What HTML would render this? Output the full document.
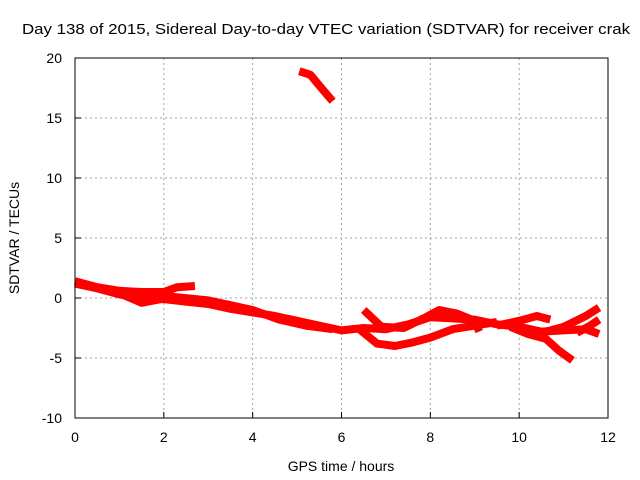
<!DOCTYPE html>
<html><head><meta charset="utf-8"><style>
body{margin:0;background:#fff;}
svg{display:block;font-family:"Liberation Sans",sans-serif;}
</style></head><body>
<svg id="chart" width="640" height="480">
<text x="22" y="34" font-size="15" textLength="608" lengthAdjust="spacingAndGlyphs">Day 138 of 2015, Sidereal Day-to-day VTEC variation (SDTVAR) for receiver crak</text>
<text x="341" y="471" font-size="14" text-anchor="middle">GPS time / hours</text>
<text transform="translate(19,238) rotate(-90)" font-size="14" text-anchor="middle">SDTVAR / TECUs</text>
<g id="grid"></g><g id="ticks"></g><g id="series"></g>
<rect x="75" y="58" width="533" height="360" fill="none" stroke="#000" stroke-width="1"/>
</svg>
<script>
const xTicks=[0,2,4,6,8,10,12];
const yTicks=[-10,-5,0,5,10,15,20];
const traceTop=[[5.05,18.9],[5.3,18.6],[5.5,17.7],[5.8,16.4]];
const traceMain=[[0,1.2],[0.5,0.8],[1,0.3],[1.5,0.0],[2,-0.1],[2.5,-0.3],[3,-0.5],[3.5,-0.9],[4,-1.2],[4.5,-1.5],[5,-1.9],[5.5,-2.3],[6,-2.7],[6.5,-2.5],[7,-2.6],[7.5,-2.2],[8,-1.6],[8.5,-1.7],[9,-1.8],[9.5,-2.2],[10,-2.4],[10.5,-2.8],[11,-2.7],[11.5,-2.6],[11.8,-3.0]];
const traceUpper=[[0,1.4],[0.5,0.9],[1,0.6],[1.5,0.5],[2,0.5],[2.3,0.9],[2.7,1.0]];
const traceMid=[[0.8,0.7],[1.5,-0.4],[2.2,0.1],[3,-0.2],[3.5,-0.6],[4,-1.0],[4.6,-1.8],[5.2,-2.3],[5.8,-2.6]];
const traceLow=[[6.4,-2.6],[6.8,-3.8],[7.2,-4.0],[7.6,-3.7],[8,-3.3],[8.5,-2.6],[9,-2.3],[9.5,-2.0]];
const traceRise=[[6.5,-1.0],[6.9,-2.4],[7.4,-2.5],[7.9,-1.6],[8.2,-1.0],[8.6,-1.3],[9.0,-1.9],[9.1,-2.8]];
const traceBump=[[9.5,-2.3],[10,-1.9],[10.4,-1.5],[10.7,-1.8]];
const traceDrop=[[9.8,-2.4],[10.2,-3.0],[10.6,-3.4],[10.9,-4.4],[11.2,-5.2]];
const traceEnd=[[10.5,-2.9],[11,-2.4],[11.5,-1.5],[11.8,-0.8]];
const traceEnd2=[[11.3,-2.9],[11.6,-2.3],[11.8,-1.8]];
const traces=[traceTop,traceMain,traceUpper,traceMid,traceLow,traceRise,traceBump,traceDrop,traceEnd,traceEnd2];
const NS="http://www.w3.org/2000/svg";
const sx=v=>75+v*533/12, sy=v=>418-(v+10)*12;
const grid=document.getElementById('grid'),ticks=document.getElementById('ticks'),ser=document.getElementById('series');
function mk(tag,at,parent){const e=document.createElementNS(NS,tag);for(const k in at)e.setAttribute(k,at[k]);parent.appendChild(e);return e;}
xTicks.forEach(t=>{
 const x=sx(t);
 if(t>0&&t<12){const l=mk('line',{x1:x,x2:x,y1:58,y2:418,stroke:'#a0a0a0','stroke-dasharray':'2,3'},grid);
 
 }
 const tk=mk('line',{x1:x,x2:x,y1:418,y2:412,stroke:'#000'},ticks);
 
 
 const tx=mk('text',{x:x,y:442,'font-size':14,'text-anchor':'middle'},ticks);tx.textContent=t;
 
 
});
yTicks.forEach(t=>{
 const y=sy(t);
 if(t>-10&&t<20){const l=mk('line',{x1:75,x2:608,y1:y,y2:y,stroke:'#a0a0a0','stroke-dasharray':'2,3'},grid);
 
 }
 const tk=mk('line',{x1:75,x2:81,y1:y,y2:y,stroke:'#000'},ticks);
 
 
 const tx=mk('text',{x:62,y:y+5,'font-size':14,'text-anchor':'end'},ticks);tx.textContent=t;
 
 
});
traces.forEach(tr=>{
 const p=mk('polyline',{points:tr.map(d=>sx(d[0])+','+sy(d[1])).join(' '),fill:'none',stroke:'#ff0000','stroke-width':8,'stroke-linejoin':'round','stroke-linecap':'butt'},ser);
 
 
});
</script>
</body></html>
